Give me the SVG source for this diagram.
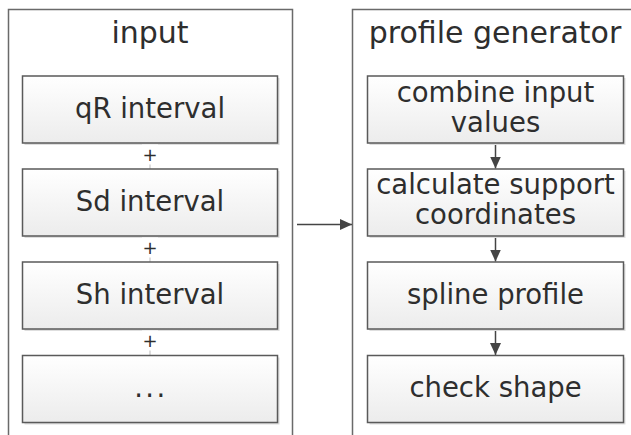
<svg xmlns="http://www.w3.org/2000/svg" width="631" height="435" viewBox="0 0 631 435">
<defs>
<linearGradient id="g" x1="0" y1="0" x2="0" y2="1">
<stop offset="0" stop-color="#ffffff"/>
<stop offset="1" stop-color="#ececec"/>
</linearGradient>
<marker id="ah" viewBox="0 0 12 11" refX="12" refY="5.5" markerWidth="12" markerHeight="11" markerUnits="userSpaceOnUse" orient="auto">
<path d="M0,0 L12,5.5 L0,11 Z" fill="#444"/>
</marker>
</defs>
<style>
.cont{fill:none;stroke:#6a6a6a;stroke-width:1.5}
.box{fill:url(#g);stroke:#5a5a5a;stroke-width:1.5}
.sh{fill:#dedede}
.t{font-family:"DejaVu Sans",Verdana,sans-serif;fill:#2e2e2e;text-anchor:middle}
.title{font-size:30px}
.lbl{font-size:27.5px}
.plus{font-size:18px}
.conn{stroke:#444;stroke-width:1.5;fill:none}
.thin{stroke:#bbb;stroke-width:1;fill:none}
</style>
<g id="input">
<path class="cont" d="M8.5,440 V9.5 H292.5 V440"/>
<text class="t title" x="150" y="43">input</text>
</g>
<g id="profile-generator">
<path class="cont" d="M352.5,440 V9.5 H640"/>
<text class="t title" x="495" y="43">profile generator</text>
</g>
<g id="connectors">
<line class="thin" x1="150" y1="143" x2="150" y2="169"/>
<line class="thin" x1="150" y1="236" x2="150" y2="262"/>
<line class="thin" x1="150" y1="329" x2="150" y2="355"/>
<line class="conn" x1="297" y1="224.5" x2="352" y2="224.5" marker-end="url(#ah)"/>
<line class="conn" x1="495.5" y1="143" x2="495.5" y2="168.5" marker-end="url(#ah)"/>
<line class="conn" x1="495.5" y1="236" x2="495.5" y2="261.5" marker-end="url(#ah)"/>
<line class="conn" x1="495.5" y1="329.5" x2="495.5" y2="355" marker-end="url(#ah)"/>
</g>
<g id="qR-interval">
<rect class="sh" x="24.5" y="78" width="255" height="67"/>
<rect class="box" x="22.5" y="76" width="255" height="67"/>
<text class="t lbl" x="150" y="118">qR interval</text>
</g>
<g id="plus1"><rect x="142" y="144.5" width="16" height="20" fill="#fff"/><text class="t plus" x="150" y="161">+</text></g>
<g id="Sd-interval">
<rect class="sh" x="24.5" y="171" width="255" height="67"/>
<rect class="box" x="22.5" y="169" width="255" height="67"/>
<text class="t lbl" x="150" y="211">Sd interval</text>
</g>
<g id="plus2"><rect x="142" y="237.5" width="16" height="20" fill="#fff"/><text class="t plus" x="150" y="254">+</text></g>
<g id="Sh-interval">
<rect class="sh" x="24.5" y="264" width="255" height="67"/>
<rect class="box" x="22.5" y="262" width="255" height="67"/>
<text class="t lbl" x="150" y="304">Sh interval</text>
</g>
<g id="plus3"><rect x="142" y="330.5" width="16" height="20" fill="#fff"/><text class="t plus" x="150" y="347">+</text></g>
<g id="more">
<rect class="sh" x="24.5" y="357.5" width="255" height="67"/>
<rect class="box" x="22.5" y="355.5" width="255" height="67"/>
<text class="t lbl" x="151" y="397" letter-spacing="2.5">...</text>
</g>
<g id="combine">
<rect class="sh" x="369.5" y="78" width="256" height="67"/>
<rect class="box" x="367.5" y="76" width="256" height="67"/>
<text class="t lbl" x="495.5" y="102">combine input</text>
<text class="t lbl" x="495.5" y="132">values</text>
</g>
<g id="calculate">
<rect class="sh" x="369.5" y="171" width="256" height="67"/>
<rect class="box" x="367.5" y="169" width="256" height="67"/>
<text class="t lbl" x="495.5" y="194">calculate support</text>
<text class="t lbl" x="495.5" y="224">coordinates</text>
</g>
<g id="spline">
<rect class="sh" x="369.5" y="264" width="256" height="67"/>
<rect class="box" x="367.5" y="262" width="256" height="67"/>
<text class="t lbl" x="495.5" y="304">spline profile</text>
</g>
<g id="check">
<rect class="sh" x="369.5" y="357.5" width="256" height="67"/>
<rect class="box" x="367.5" y="355.5" width="256" height="67"/>
<text class="t lbl" x="495.5" y="397">check shape</text>
</g>
</svg>
